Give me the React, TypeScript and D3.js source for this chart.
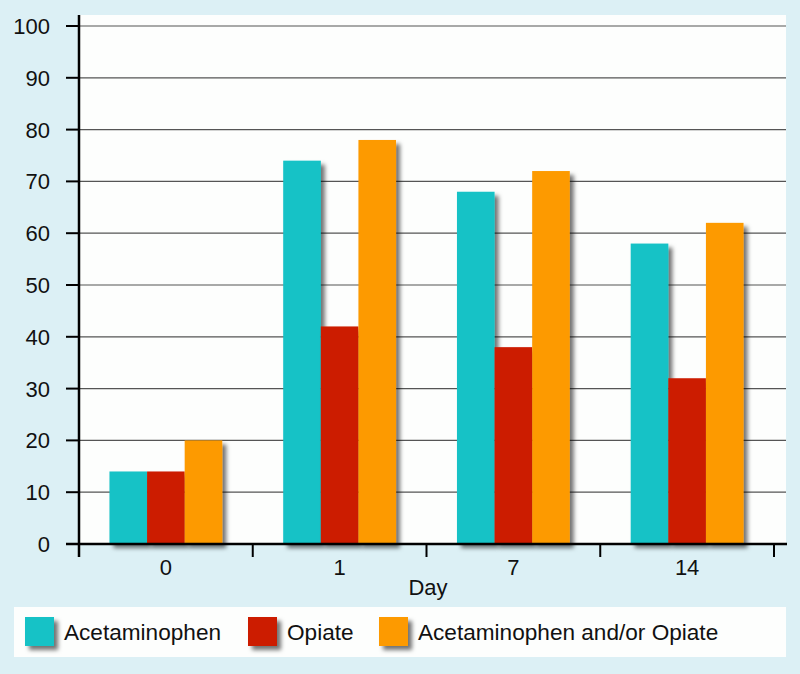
import React from "react";
import * as d3 from "d3";

const days = ["0", "1", "7", "14"];
const seriesNames = ["Acetaminophen", "Opiate", "Acetaminophen and/or Opiate"];
const acetaminophen = [14, 74, 68, 58];
const opiate = [14, 42, 38, 32];
const either = [20, 78, 72, 62];
const yTicks = [0, 10, 20, 30, 40, 50, 60, 70, 80, 90, 100];
const colors = ["#12c2c6", "#cc1b00", "#fd9a05"];
const xTitle = "Day";

const W = 800;
const H = 674;
const plotLeft = 79;
const plotRight = 774;
const plotTop = 15;
const whiteRight = 786;
const y0 = 544;
const y100 = 26;
const FONT = "'Liberation Sans', Arial, sans-serif";

export default function App() {
  const values = [acetaminophen, opiate, either];
  const x0 = d3.scaleBand<string>().domain(days).range([plotLeft, plotRight]).padding(0);
  const x1 = d3
    .scaleBand<string>()
    .domain(seriesNames)
    .range([0, x0.bandwidth()])
    .paddingInner(0)
    .paddingOuter(0.81);
  const y = d3.scaleLinear().domain([0, 100]).range([y0, y100]);
  const boundaries = days.map((d) => x0(d) as number).concat([plotRight]);
  const legendX = [25, 248, 379];

  return (
    <svg
      width={W}
      height={H}
      style={{ position: "absolute", left: 0, top: 0, display: "block" }}
      fontFamily={FONT}
    >
      <defs>
        <filter id="shadow" x="-30%" y="-30%" width="170%" height="170%">
          <feDropShadow dx="4" dy="4" stdDeviation="2" floodColor="#000" floodOpacity="0.55" />
        </filter>
      </defs>
      <rect x={0} y={0} width={W} height={H} fill="#dcf0f5" />
      <rect x={plotLeft} y={plotTop} width={whiteRight - plotLeft} height={y0 - plotTop} fill="#fdfefd" />
      {yTicks.map((t) => (
        <line key={"g" + t} x1={plotLeft} x2={whiteRight} y1={y(t)} y2={y(t)} stroke="#555" strokeWidth={1.2} />
      ))}
      {days.map((d, i) => (
        <g key={d} transform={`translate(${x0(d)},0)`}>
          {seriesNames.map((s, j) => (
            <rect
              key={s}
              x={x1(s)}
              y={y(values[j][i])}
              width={x1.bandwidth()}
              height={y0 - y(values[j][i])}
              fill={colors[j]}
              filter="url(#shadow)"
            />
          ))}
        </g>
      ))}
      <line x1={plotLeft} x2={plotLeft} y1={plotTop} y2={557} stroke="#000" strokeWidth={2.5} />
      {yTicks.map((t) => (
        <g key={"t" + t}>
          <line x1={66} x2={plotLeft} y1={y(t)} y2={y(t)} stroke="#000" strokeWidth={2} />
          <text x={50} y={y(t)} dy="0.36em" textAnchor="end" fontSize={22} fill="#111">
            {t}
          </text>
        </g>
      ))}
      <line x1={66} x2={whiteRight + 1} y1={y0} y2={y0} stroke="#000" strokeWidth={2.5} />
      {boundaries.slice(1).map((b, i) => (
        <line key={"xt" + i} x1={b} x2={b} y1={y0} y2={557} stroke="#000" strokeWidth={2} />
      ))}
      {days.map((d) => (
        <text
          key={"xl" + d}
          x={(x0(d) as number) + x0.bandwidth() / 2}
          y={575}
          textAnchor="middle"
          fontSize={22}
          fill="#111"
        >
          {d}
        </text>
      ))}
      <text x={428} y={595} textAnchor="middle" fontSize={22} fill="#111">
        {xTitle}
      </text>
      <rect x={14} y={607} width={whiteRight - 14} height={50} fill="#fdfefd" />
      {seriesNames.map((s, j) => (
        <g key={"lg" + s}>
          <rect x={legendX[j]} y={617} width={29} height={29} fill={colors[j]} filter="url(#shadow)" />
          <text x={legendX[j] + 39} y={640} fontSize={22.6} fill="#111">
            {s}
          </text>
        </g>
      ))}
    </svg>
  );
}
